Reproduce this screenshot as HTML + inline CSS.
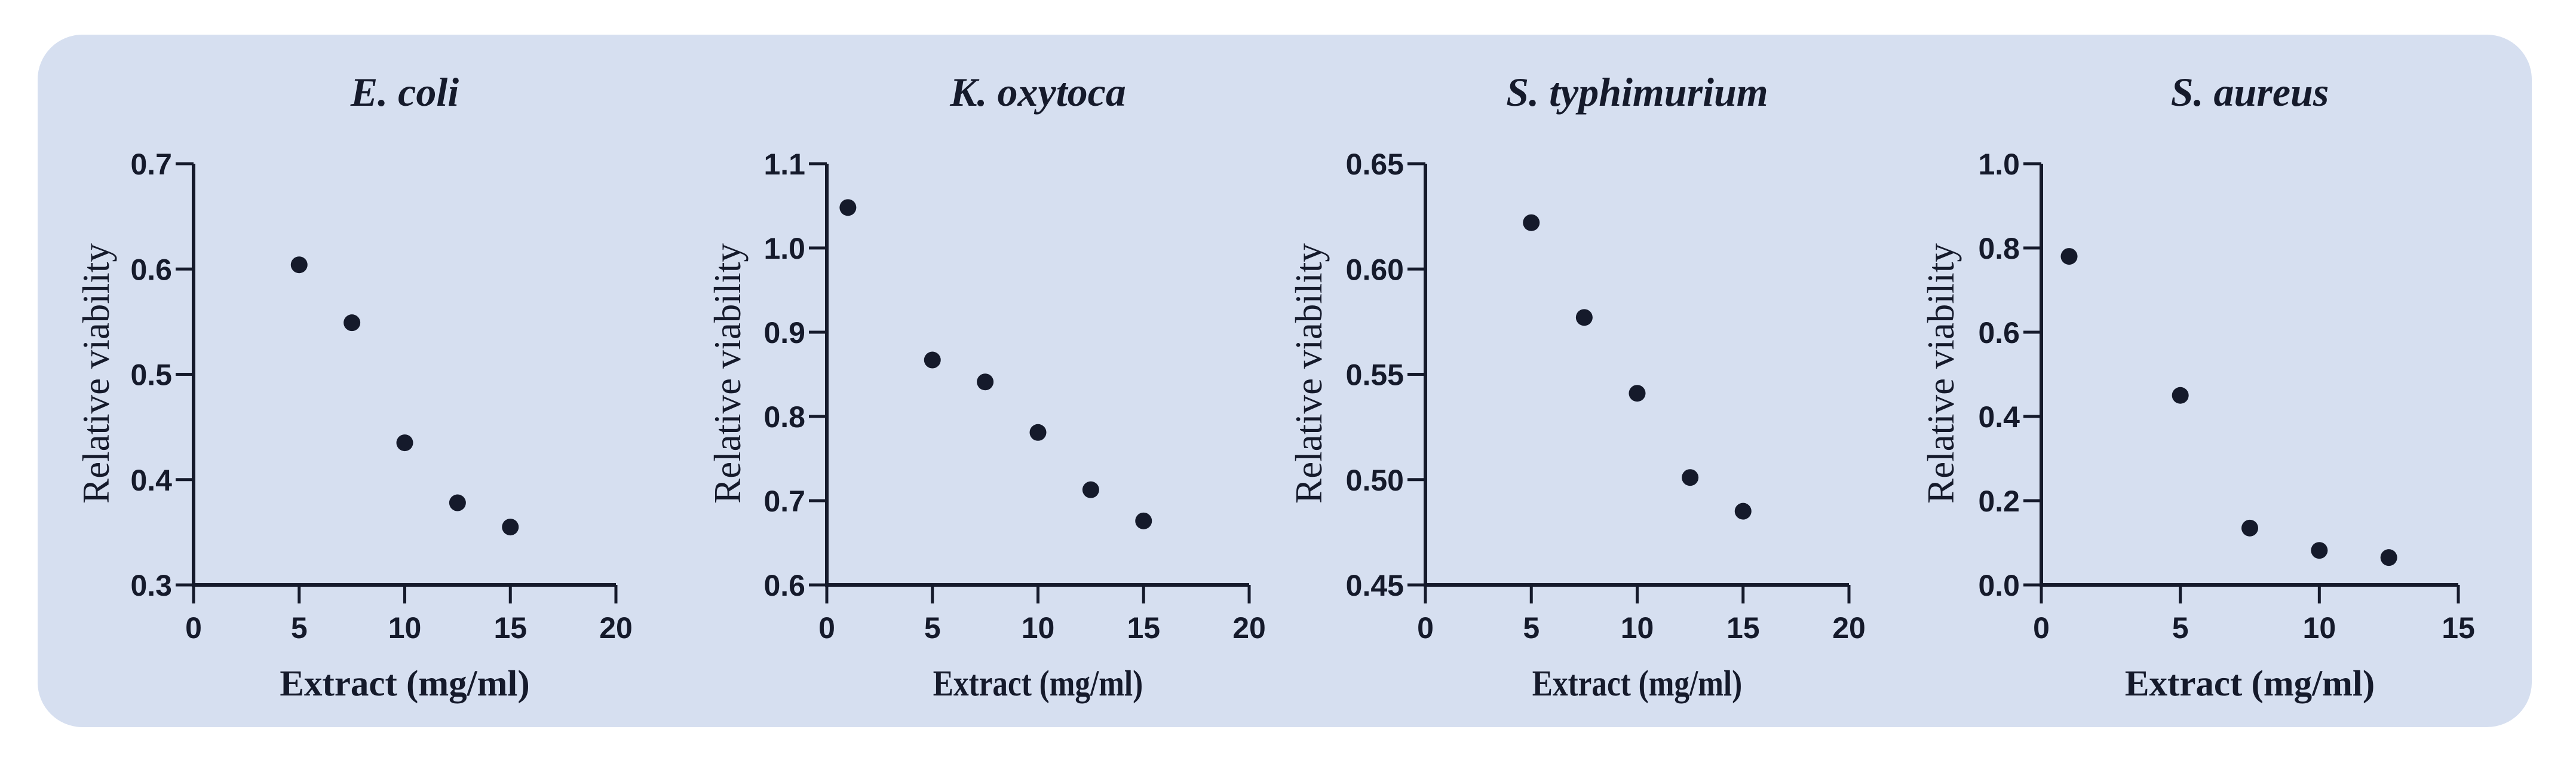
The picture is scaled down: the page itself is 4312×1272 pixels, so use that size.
<!DOCTYPE html>
<html><head><meta charset="utf-8"><style>
html,body{margin:0;padding:0;background:#fff;width:4312px;height:1272px;overflow:hidden}
svg{display:block}
</style></head><body>
<svg id="chart" width="4312" height="1272" viewBox="0 0 4312 1272" xmlns="http://www.w3.org/2000/svg">
<rect x="63" y="58" width="4175" height="1159" rx="75" fill="#d6dff0"/>
</svg>
<script>
const titles = ["E. coli","K. oxytoca","S. typhimurium","S. aureus"];
const xs1 = [5,7.5,10,12.5,15];
const ys1 = [0.604,0.549,0.435,0.378,0.355];
const xs2 = [1,5,7.5,10,12.5,15];
const ys2 = [1.048,0.867,0.841,0.781,0.713,0.676];
const xs3 = [5,7.5,10,12.5,15];
const ys3 = [0.622,0.577,0.541,0.501,0.485];
const xs4 = [1,5,7.5,10,12.5];
const ys4 = [0.78,0.45,0.135,0.082,0.065];
const yTicks1 = ["0.3","0.4","0.5","0.6","0.7"];
const yTicks2 = ["0.6","0.7","0.8","0.9","1.0","1.1"];
const yTicks3 = ["0.45","0.50","0.55","0.60","0.65"];
const yTicks4 = ["0.0","0.2","0.4","0.6","0.8","1.0"];
const xTicks1 = ["0","5","10","15","20"];
const xTicks4 = ["0","5","10","15"];

const svg = document.getElementById('chart');
const NS = 'http://www.w3.org/2000/svg';
const INK = '#151a2b';
function mk(tag, attrs, text){
  const e = document.createElementNS(NS, tag);
  for (const k in attrs) e.setAttribute(k, attrs[k]);
  if (text !== undefined) e.textContent = text;
  svg.appendChild(e);
  return e;
}
const panels = [
  {x0:324, x1:1031, xs:xs1, ys:ys1, yt:yTicks1, xt:xTicks1, ytitle:161, cond:false},
  {x0:1384, x1:2091, xs:xs2, ys:ys2, yt:yTicks2, xt:xTicks1, ytitle:1218, cond:true},
  {x0:2386, x1:3095, xs:xs3, ys:ys3, yt:yTicks3, xt:xTicks1, ytitle:2191, cond:true},
  {x0:3417, x1:4115, xs:xs4, ys:ys4, yt:yTicks4, xt:xTicks4, ytitle:3249, cond:false}
];
const yTop = 274, yBot = 979;
panels.forEach((p, i) => {
  const xmin = +p.xt[0], xmax = +p.xt[p.xt.length-1];
  const ymin = +p.yt[0], ymax = +p.yt[p.yt.length-1];
  const sx = v => p.x0 + (v - xmin) / (xmax - xmin) * (p.x1 - p.x0);
  const sy = v => yBot - (v - ymin) / (ymax - ymin) * (yBot - yTop);
  const cx = (p.x0 + p.x1) / 2;
  const cond = p.cond ? 'scale(0.84,1)' : '';
  let t = mk('text', {x:cx, y:177, 'text-anchor':'middle', 'font-family':'Liberation Serif, serif', 'font-size':68, 'font-weight':'bold', 'font-style':'italic', fill:INK}, titles[i]);
  
  
  let ax = mk('path', {d:`M${p.x0} ${yTop}V${yBot}H${p.x1}`, stroke:INK, 'stroke-width':6, fill:'none'});
  
  
  p.yt.forEach(lab => {
    const y = sy(+lab);
    let tk = mk('line', {x1:p.x0-30, x2:p.x0, y1:y, y2:y, stroke:INK, 'stroke-width':5});
    
    
    let tl = mk('text', {x:p.x0-36, y:y+18, 'text-anchor':'end', 'font-family':'Liberation Sans, sans-serif', 'font-size':50, 'font-weight':'bold', fill:INK}, lab);
    
    
  });
  p.xt.forEach(lab => {
    const x = sx(+lab);
    let tk = mk('line', {x1:x, x2:x, y1:yBot, y2:yBot+31, stroke:INK, 'stroke-width':5});
    
    
    let tl = mk('text', {x:x, y:1068, 'text-anchor':'middle', 'font-family':'Liberation Sans, sans-serif', 'font-size':50, 'font-weight':'bold', fill:INK}, lab);
    
    
  });
  let xt = mk('text', {x:0, y:0, transform:`translate(${cx},${1164}) ${cond}`, 'text-anchor':'middle', 'font-family':'Liberation Serif, serif', 'font-size':61, 'font-weight':'bold', fill:INK}, 'Extract (mg/ml)');
  
  
  let yl = mk('text', {x:0, y:0, transform:`translate(${p.ytitle+21},${625}) rotate(-90)`, 'text-anchor':'middle', 'font-family':'Liberation Serif, serif', 'font-size':63, fill:INK}, 'Relative viability');
  
  
  p.xs.forEach((xv, j) => {
    let c = mk('circle', {cx:sx(xv), cy:sy(p.ys[j]), r:14, fill:INK});
    
    
  });
});
</script>
</body></html>
